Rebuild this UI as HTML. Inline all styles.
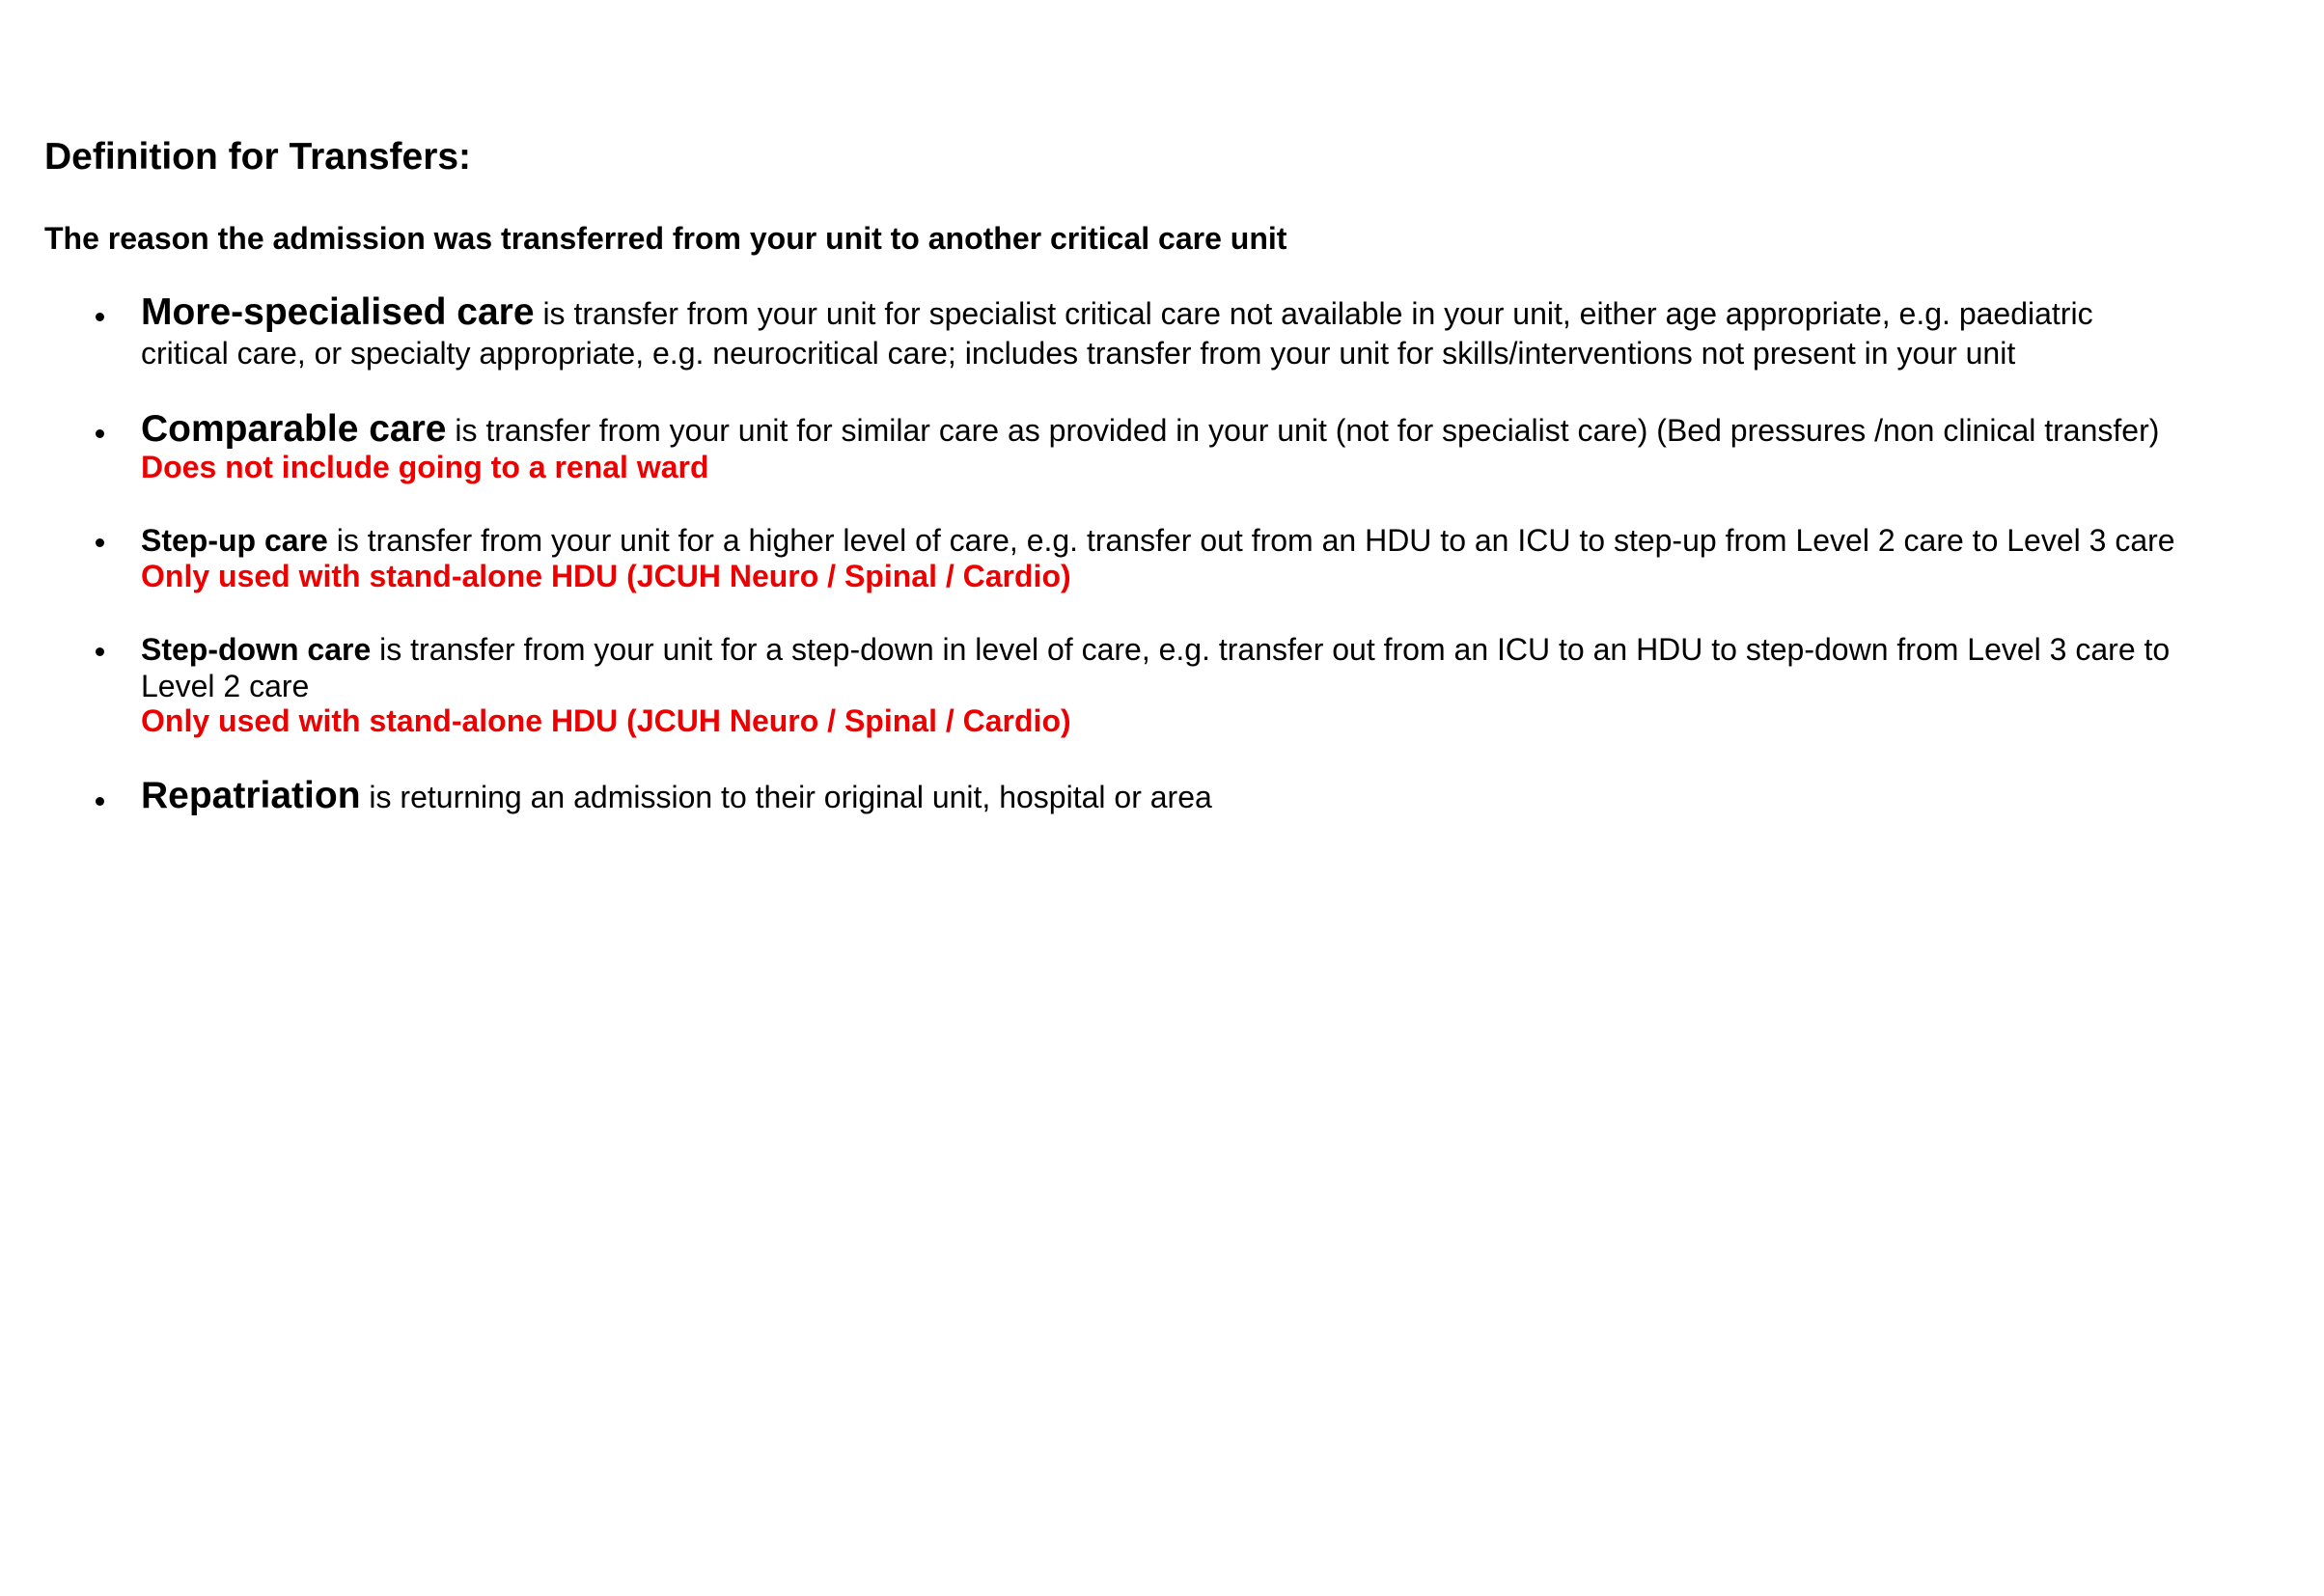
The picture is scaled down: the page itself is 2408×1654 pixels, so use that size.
<!DOCTYPE html>
<html><head><meta charset="utf-8"><style>
html,body{margin:0;padding:0;background:#fff;}
body{width:2408px;height:1654px;position:relative;overflow:hidden;font-family:"Liberation Sans",Arial,sans-serif;color:#000;}
.l{position:absolute;left:146px;white-space:nowrap;font-size:32px;line-height:40px;}
.b{font-weight:bold;}
.big{font-size:39px;line-height:40px;font-weight:bold;}
.r{color:#ee0000;font-weight:bold;}
.dot{position:absolute;left:99px;width:9px;height:9px;border-radius:50%;background:#000;}
</style></head><body>
<div class="l b" style="left:46px;top:143px;font-size:39px;">Definition for Transfers:</div>
<div class="l b" style="left:46px;top:231px;font-size:32px;line-height:32px;">The reason the admission was transferred from your unit to another critical care unit</div>

<div class="dot" style="top:324px"></div>
<div class="l" style="top:304px"><span class="big">More-specialised care</span> is transfer from your unit for specialist critical care not available in your unit, either age appropriate, e.g. paediatric</div>
<div class="l" style="top:346px">critical care, or specialty appropriate, e.g. neurocritical care; includes transfer from your unit for skills/interventions not present in your unit</div>

<div class="dot" style="top:445px"></div>
<div class="l" style="top:425px"><span class="big">Comparable care</span> is transfer from your unit for similar care as provided in your unit (not for specialist care) (Bed pressures /non clinical transfer)</div>
<div class="l r" style="top:464px">Does not include going to a renal ward</div>

<div class="dot" style="top:558px"></div>
<div class="l" style="top:540px"><span class="b">Step-up care</span> is transfer from your unit for a higher level of care, e.g. transfer out from an HDU to an ICU to step-up from Level 2 care to Level 3 care</div>
<div class="l r" style="top:577px">Only used with stand-alone HDU (JCUH Neuro / Spinal / Cardio)</div>

<div class="dot" style="top:671px"></div>
<div class="l" style="top:653px"><span class="b">Step-down care</span> is transfer from your unit for a step-down in level of care, e.g. transfer out from an ICU to an HDU to step-down from Level 3 care to</div>
<div class="l" style="top:691px">Level 2 care</div>
<div class="l r" style="top:727px">Only used with stand-alone HDU (JCUH Neuro / Spinal / Cardio)</div>

<div class="dot" style="top:826px"></div>
<div class="l" style="top:805px"><span class="big">Repatriation</span> is returning an admission to their original unit, hospital or area</div>
</body></html>
